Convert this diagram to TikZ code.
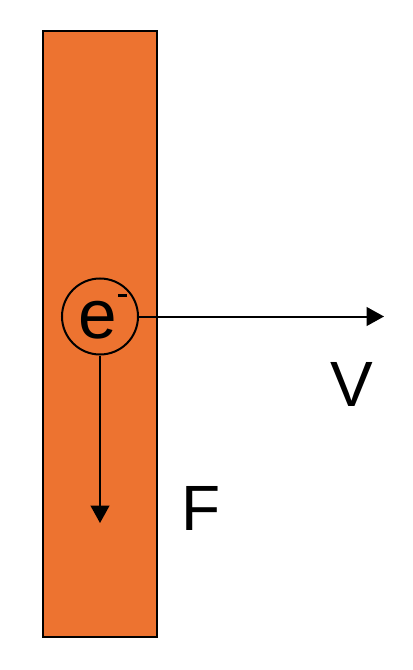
\documentclass[tikz,border=0pt]{standalone}
\usepackage{fontspec}
\setmainfont{Liberation Sans}
\usetikzlibrary{arrows.meta}
\definecolor{barra}{RGB}{237,115,48}
\tikzset{
  vector/.style={line width=1.5pt,-{Triangle[length=13pt,width=14pt]}},
  etiqueta/.style={font=\fontsize{48}{50}\selectfont,inner sep=0pt}
}
\begin{document}
\begin{tikzpicture}[x=0.75pt,y=-0.75pt]
	\useasboundingbox (0,0) rectangle (412,670);
	
	% Barra conductora
	\draw[line width=1.5pt,fill=barra] (43,31) rectangle (157,637);
	
	% Electron
	\node[draw,circle,line width=1.5pt,minimum size=57pt,inner sep=0pt] (elec) at (100,316.5) {};
	\node[font=\fontsize{52}{54}\selectfont,inner sep=0pt,xshift=2pt] (etxt) at (elec)
	      {e\hspace{1pt}\raisebox{0.6em}{\rule{7pt}{2pt}}};
	
	% Velocidad
	\coordinate (vtip) at (384,316.5);
	\draw[vector] (elec.east) -- (vtip);
	\node[etiqueta] (v) at (352,384) {V};
	
	% Fuerza
	\coordinate (ftip) at (100,523);
	\draw[vector] (elec.south) -- (ftip);
	\node[etiqueta] (f) at (201,508) {F};
	
\end{tikzpicture}
\end{document}
